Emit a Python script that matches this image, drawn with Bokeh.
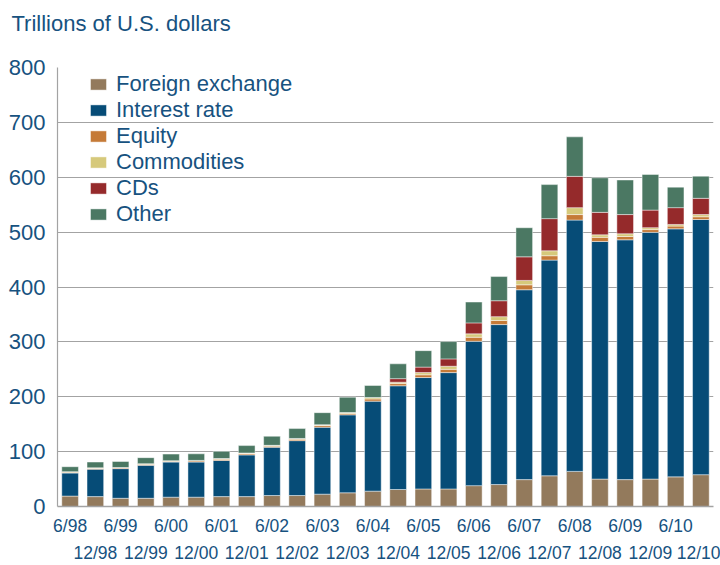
import numpy as np
from bokeh.plotting import figure
from bokeh.models import ColumnDataSource, FixedTicker, LinearAxis, Range1d, Title
from bokeh.embed import file_html
from bokeh.resources import INLINE

periods = ["6/98", "12/98", "6/99", "12/99", "6/00", "12/00", "6/01", "12/01",
           "6/02", "12/02", "6/03", "12/03", "6/04", "12/04", "6/05", "12/05",
           "6/06", "12/06", "6/07", "12/07", "6/08", "12/08", "6/09", "12/09",
           "6/10", "12/10"]

foreign_exchange = [19, 18, 15, 15, 17, 17, 18, 18, 20, 20, 22.5, 25, 28, 31, 32, 32,
                    38, 40, 49, 56, 64, 50, 49, 50, 54, 58]
interest_rate = [42, 50, 54, 60, 64, 64, 66, 76, 88, 100, 122, 142, 164, 189, 203, 212,
                 263, 291.5, 346, 393, 458, 433, 437, 449.6, 452, 465]
equity = [1.5, 1.5, 1.5, 2, 1.5, 2, 2, 2, 2, 2.5, 3, 2.5, 4, 4, 5, 6,
          7.4, 7.5, 9, 8, 10, 7.5, 6, 5, 5, 5]
commodities = [1, 1, 0.5, 1, 1, 1, 1.5, 1.5, 1.5, 1.5, 1.5, 1.8, 2.5, 2.5, 4, 5.6,
               6.2, 7, 8, 9, 12.6, 4.5, 5, 3.5, 3, 4]
cds = [0, 0, 0, 0, 0, 0, 0, 0, 0, 0, 0, 0, 0, 6.5, 10, 13.4,
       20, 29, 43, 58.6, 57, 41, 35, 32, 30.6, 29.6]
other = [9, 10.5, 11, 11, 12, 12, 13, 13.5, 16.5, 18, 22, 28, 22, 27, 30, 31.5,
         38, 44, 53, 62, 72, 63, 63, 65, 37.4, 40.4]

series_names = ["Foreign exchange", "Interest rate", "Equity", "Commodities", "CDs", "Other"]
series_keys = ["fx", "ir", "eq", "comm", "cds", "other"]
colors = ["#937a5c", "#064c77", "#c57a37", "#d6c97b", "#952a2b", "#4b7863"]
y_ticks = [0, 100, 200, 300, 400, 500, 600, 700, 800]
title_text = "Trillions of U.S. dollars"

TEXT = "#17527f"
GRID = "#a3a3a3"
FONT = "Liberation Sans"

xs = np.arange(len(periods))
source = ColumnDataSource(dict(x=xs, fx=foreign_exchange, ir=interest_rate, eq=equity,
                               comm=commodities, cds=cds, other=other))

p = figure(width=720, height=565, output_backend="svg", toolbar_location=None,
           x_range=Range1d(-0.5, len(periods) - 0.5), y_range=Range1d(0, 800),
           min_border_left=57, min_border_right=7, min_border_top=67, min_border_bottom=59)
p.outline_line_color = None
p.background_fill_color = "white"
p.border_fill_color = "white"

p.vbar_stack(series_keys, x="x", width=0.66, color=colors, source=source,
             line_color="white", line_alpha=0.45, line_width=1,
             legend_label=series_names)

# y axis
yax = p.yaxis[0]
yax.ticker = FixedTicker(ticks=y_ticks)
yax.major_label_text_font = FONT
yax.major_label_text_font_size = "22px"
yax.major_label_text_color = TEXT
yax.major_tick_line_color = None
yax.major_tick_out = 0
yax.major_tick_in = 0
yax.minor_tick_line_color = None
yax.minor_tick_out = 0
yax.axis_line_color = GRID
yax.axis_line_width = 1.2
yax.major_label_standoff = 12

p.xgrid.grid_line_color = None
p.ygrid.ticker = FixedTicker(ticks=y_ticks)
p.ygrid.grid_line_color = GRID
p.ygrid.grid_line_width = 1.2

june = [i for i in range(len(periods)) if i % 2 == 0]
dec = [i for i in range(len(periods)) if i % 2 == 1]

def style_x(ax, standoff):
    ax.major_label_text_font = FONT
    ax.major_label_text_font_size = "17.5px"
    ax.major_label_text_color = TEXT
    ax.major_tick_line_color = None
    ax.major_tick_out = 0
    ax.major_tick_in = 0
    ax.minor_tick_line_color = None
    ax.minor_tick_out = 0
    ax.major_label_standoff = standoff

xax = p.xaxis[0]
xax.ticker = FixedTicker(ticks=june)
xax.major_label_overrides = {i: periods[i] for i in june}
style_x(xax, 9)
xax.axis_line_color = GRID
xax.axis_line_width = 1.5

xax2 = LinearAxis(ticker=FixedTicker(ticks=dec),
                  major_label_overrides={i: periods[i] for i in dec})
style_x(xax2, 4)
xax2.axis_line_color = None
p.add_layout(xax2, "below")

# title: an empty second line lifts the text toward the top of the canvas
t = Title(text=title_text + "\n", align="left", offset=-46,
          text_font=FONT, text_font_size="22px", text_color=TEXT,
          text_font_style="normal", standoff=14)
p.add_layout(t, "above")

# legend
lg = p.legend[0]
lg.location = (31, 279)
lg.margin = 0
lg.padding = 0
lg.border_line_color = None
lg.background_fill_alpha = 0
lg.label_text_font = FONT
lg.label_text_font_size = "22px"
lg.label_text_color = TEXT
lg.glyph_width = 20
lg.glyph_height = 14
lg.label_standoff = 8
lg.label_height = 23
lg.spacing = 0

open("out.html", "w").write(file_html(p, INLINE))
